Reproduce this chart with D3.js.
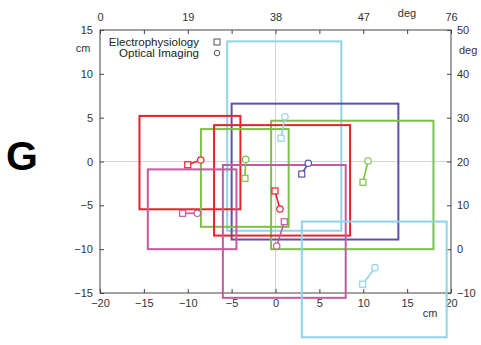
<!DOCTYPE html>
<html>
<head>
<meta charset="utf-8">
<script src="https://cdn.jsdelivr.net/npm/d3@7"></script>
<style>
  body { margin: 0; background: #fff; }
  svg { font-family: "Liberation Sans", Arial, sans-serif; }
  .axis text { font-size: 11px; fill: #333; }
  .axis line { stroke: #444; }
</style>
</head>
<body>
<svg width="481" height="345"></svg>
<script>
"use strict";

// receptive fields, one per colour (cm)
var fieldColors = ["#8fd3e9", "#5b52a3", "#7cc243", "#e8222b", "#7cc243", "#e8222b", "#c45aa0", "#c45aa0", "#8fd3e9"];
var fieldX = [[-5.5, 7.5], [-5.0, 14.0], [-0.5, 18.0], [-15.5, -4.0], [-8.5, 1.5], [-7.0, 8.5], [-14.55, -4.45], [-6.0, 8.0], [3.0, 19.5]];
var fieldY = [[13.7, -7.9], [6.6, -8.9], [4.65, -10.0], [5.2, -5.45], [3.7, -7.45], [4.15, -8.45], [-0.9, -10.0], [-0.4, -15.55], [-6.85, -20.05]];

// centres: electrophysiology (square) and optical imaging (circle)
var ephysPts = [[0.63, 2.65], [2.99, -1.43], [9.97, -2.37], [-10.0, -0.37], [-3.48, -1.92], [-0.06, -3.36], [-10.58, -5.91], [1.0, -6.87], [9.94, -14.0]];
var opticalPts = [[1.08, 5.11], [3.74, -0.2], [10.54, 0.06], [-8.52, 0.17], [-3.4, 0.25], [0.51, -5.42], [-8.91, -5.91], [0.14, -9.64], [11.34, -12.11]];

// axis ticks
var cmTicks = [-20, -15, -10, -5, 0, 5, 10, 15, 20];
var cmYTicks = [-15, -10, -5, 0, 5, 10, 15];
var degYTicks = [-10, 0, 10, 20, 30, 40, 50];
var topTickLabels = {"-20": "0", "-10": "19", "0": "38", "10": "47", "20": "76"};

var svg = d3.select("svg");

var x = d3.scaleLinear().domain([-20, 20]).range([100, 451]);
var y = d3.scaleLinear().domain([-15, 15]).range([293, 30]);
var yDeg = d3.scaleLinear().domain([-10, 50]).range([293, 30]);

//panel letter
svg.append("text")
  .attr("x", 6).attr("y", 170)
  .style("font-size", "41px").style("font-weight", "bold")
  .text("G");

//zero lines
svg.append("line")
  .attr("x1", x(0)).attr("x2", x(0)).attr("y1", y(15)).attr("y2", y(-15))
  .attr("stroke", "#c8c8c8").attr("stroke-width", 0.8);
svg.append("line")
  .attr("x1", x(-20)).attr("x2", x(20)).attr("y1", y(0)).attr("y2", y(0))
  .attr("stroke", "#c8c8c8").attr("stroke-width", 0.8);

//axes, ticks inward
svg.append("g").attr("class", "axis")
  .attr("transform", "translate(0," + y(-15) + ")")
  .call(d3.axisBottom(x).tickValues(cmTicks).tickSize(-4).tickPadding(6))
  .call(g => g.select(".domain").remove());

svg.append("g").attr("class", "axis")
  .attr("transform", "translate(0," + y(15) + ")")
  .call(d3.axisTop(x).tickValues(cmTicks).tickSize(-4).tickPadding(9)
    .tickFormat(d => topTickLabels[d] || ""))
  .call(g => g.select(".domain").remove());

svg.append("g").attr("class", "axis")
  .attr("transform", "translate(" + x(-20) + ",0)")
  .call(d3.axisLeft(y).tickValues(cmYTicks).tickSize(-4).tickPadding(7))
  .call(g => g.select(".domain").remove());

svg.append("g").attr("class", "axis")
  .attr("transform", "translate(" + x(20) + ",0)")
  .call(d3.axisRight(yDeg).tickValues(degYTicks).tickSize(-4).tickPadding(6))
  .call(g => g.select(".domain").remove());

//unit labels
var units = svg.append("g").style("font-size", "11px").attr("fill", "#333");
units.append("text").attr("x", 83).attr("y", 52).attr("text-anchor", "middle").text("cm");
units.append("text").attr("x", 459).attr("y", 54).text("deg");
units.append("text").attr("x", 407).attr("y", 17).attr("text-anchor", "middle").text("deg");
units.append("text").attr("x", 430).attr("y", 317).attr("text-anchor", "middle").text("cm");

//frame
svg.append("rect")
  .attr("x", x(-20)).attr("y", y(15))
  .attr("width", x(20) - x(-20)).attr("height", y(-15) - y(15))
  .attr("fill", "none").attr("stroke", "#444").attr("stroke-width", 1);

//receptive field boxes
svg.append("g").selectAll("rect")
  .data(fieldColors)
  .join("rect")
  .attr("x", (d, i) => x(fieldX[i][0]))
  .attr("y", (d, i) => y(fieldY[i][0]))
  .attr("width", (d, i) => x(fieldX[i][1]) - x(fieldX[i][0]))
  .attr("height", (d, i) => y(fieldY[i][1]) - y(fieldY[i][0]))
  .attr("fill", "none")
  .attr("stroke", d => d)
  .attr("stroke-width", 2);

//connecting lines between the two centres
var pairs = svg.append("g");
pairs.selectAll("line")
  .data(fieldColors)
  .join("line")
  .attr("x1", (d, i) => x(ephysPts[i][0]))
  .attr("y1", (d, i) => y(ephysPts[i][1]))
  .attr("x2", (d, i) => x(opticalPts[i][0]))
  .attr("y2", (d, i) => y(opticalPts[i][1]))
  .attr("stroke", d => d)
  .attr("stroke-width", 1.6);

pairs.selectAll("rect")
  .data(fieldColors)
  .join("rect")
  .attr("x", (d, i) => x(ephysPts[i][0]) - 3)
  .attr("y", (d, i) => y(ephysPts[i][1]) - 3)
  .attr("width", 6).attr("height", 6)
  .attr("fill", "#fff")
  .attr("stroke", d => d)
  .attr("stroke-width", 1.2);

pairs.selectAll("circle")
  .data(fieldColors)
  .join("circle")
  .attr("cx", (d, i) => x(opticalPts[i][0]))
  .attr("cy", (d, i) => y(opticalPts[i][1]))
  .attr("r", 3.2)
  .attr("fill", "#fff")
  .attr("stroke", d => d)
  .attr("stroke-width", 1.2);

//legend
var legend = svg.append("g").style("font-size", "11.5px").attr("fill", "#222");
legend.append("text").attr("x", 199).attr("y", 46).attr("text-anchor", "end").text("Electrophysiology");
legend.append("text").attr("x", 199).attr("y", 57).attr("text-anchor", "end").text("Optical Imaging");
legend.append("rect").attr("x", 214).attr("y", 39).attr("width", 6).attr("height", 6)
  .attr("fill", "none").attr("stroke", "#555").attr("stroke-width", 1);
legend.append("circle").attr("cx", 217).attr("cy", 53).attr("r", 2.8)
  .attr("fill", "none").attr("stroke", "#555").attr("stroke-width", 1);
</script>
</body>
</html>
